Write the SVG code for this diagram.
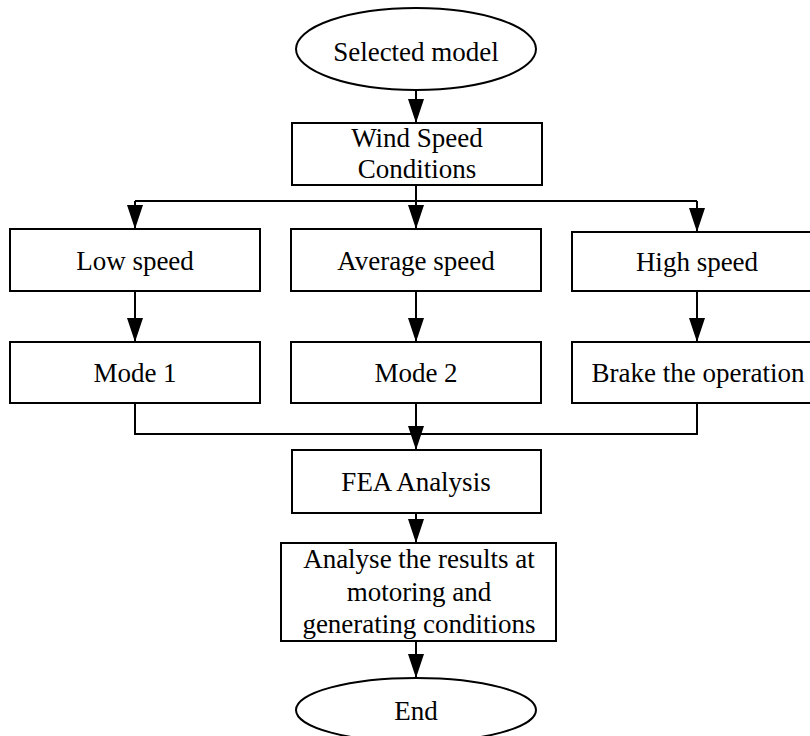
<svg xmlns="http://www.w3.org/2000/svg" width="810" height="736" viewBox="0 0 810 736">
  <style>
    .shape { fill: #ffffff; stroke: #000000; stroke-width: 2; }
    .label { font-family: "Liberation Serif", "Times New Roman", serif; font-size: 27px; fill: #000000; text-anchor: middle; }
    .wire { fill: none; stroke: #000000; stroke-width: 2; }
  </style>
  <defs>
    <marker id="arrow" viewBox="0 0 24 16" refX="24" refY="8" markerWidth="24" markerHeight="16" markerUnits="userSpaceOnUse" orient="auto">
      <path d="M0,0 L24,8 L0,16 Z" fill="#000000"/>
    </marker>
  </defs>
  <rect width="810" height="736" fill="#ffffff"/>

  <!-- connectors -->
  <g id="connectors">
    <path class="wire" d="M416,90 V123" marker-end="url(#arrow)"/>
    <path class="wire" d="M416,185 V201 M135,201 H697"/>
    <path class="wire" d="M135,201 V229" marker-end="url(#arrow)"/>
    <path class="wire" d="M416,201 V229" marker-end="url(#arrow)"/>
    <path class="wire" d="M697,201 V232" marker-end="url(#arrow)"/>
    <path class="wire" d="M135,291 V342" marker-end="url(#arrow)"/>
    <path class="wire" d="M416,291 V342" marker-end="url(#arrow)"/>
    <path class="wire" d="M697,291 V342" marker-end="url(#arrow)"/>
    <path class="wire" d="M135,403 V434 H697 V403"/>
    <path class="wire" d="M416,403 V450" marker-end="url(#arrow)"/>
    <path class="wire" d="M416,513 V543" marker-end="url(#arrow)"/>
    <path class="wire" d="M416,641 V678" marker-end="url(#arrow)"/>
  </g>

  <g id="start">
    <ellipse class="shape" cx="416" cy="49" rx="120" ry="41"/>
    <text class="label" x="416" y="61">Selected model</text>
  </g>
  <g id="wind">
    <rect class="shape" x="292" y="123" width="250" height="62"/>
    <text class="label" x="417" y="147">Wind Speed</text>
    <text class="label" x="417" y="178">Conditions</text>
  </g>
  <g id="low">
    <rect class="shape" x="10" y="229" width="250" height="62"/>
    <text class="label" x="135" y="270">Low speed</text>
  </g>
  <g id="average">
    <rect class="shape" x="291" y="229" width="250" height="62"/>
    <text class="label" x="416" y="270">Average speed</text>
  </g>
  <g id="high">
    <rect class="shape" x="572" y="232" width="250" height="59"/>
    <text class="label" x="697" y="271">High speed</text>
  </g>
  <g id="mode1">
    <rect class="shape" x="10" y="342" width="250" height="61"/>
    <text class="label" x="135" y="382">Mode 1</text>
  </g>
  <g id="mode2">
    <rect class="shape" x="291" y="342" width="250" height="61"/>
    <text class="label" x="416" y="382">Mode 2</text>
  </g>
  <g id="brake">
    <rect class="shape" x="572" y="342" width="250" height="61"/>
    <text class="label" x="698" y="382">Brake the operation</text>
  </g>
  <g id="fea">
    <rect class="shape" x="292" y="450" width="249" height="63"/>
    <text class="label" x="416" y="491">FEA Analysis</text>
  </g>
  <g id="analyse">
    <rect class="shape" x="281" y="543" width="275" height="98"/>
    <text class="label" x="419" y="568">Analyse the results at</text>
    <text class="label" x="419" y="601">motoring and</text>
    <text class="label" x="419" y="633">generating conditions</text>
  </g>
  <g id="end">
    <ellipse class="shape" cx="416" cy="710" rx="120" ry="32"/>
    <text class="label" x="416" y="720">End</text>
  </g>
</svg>
